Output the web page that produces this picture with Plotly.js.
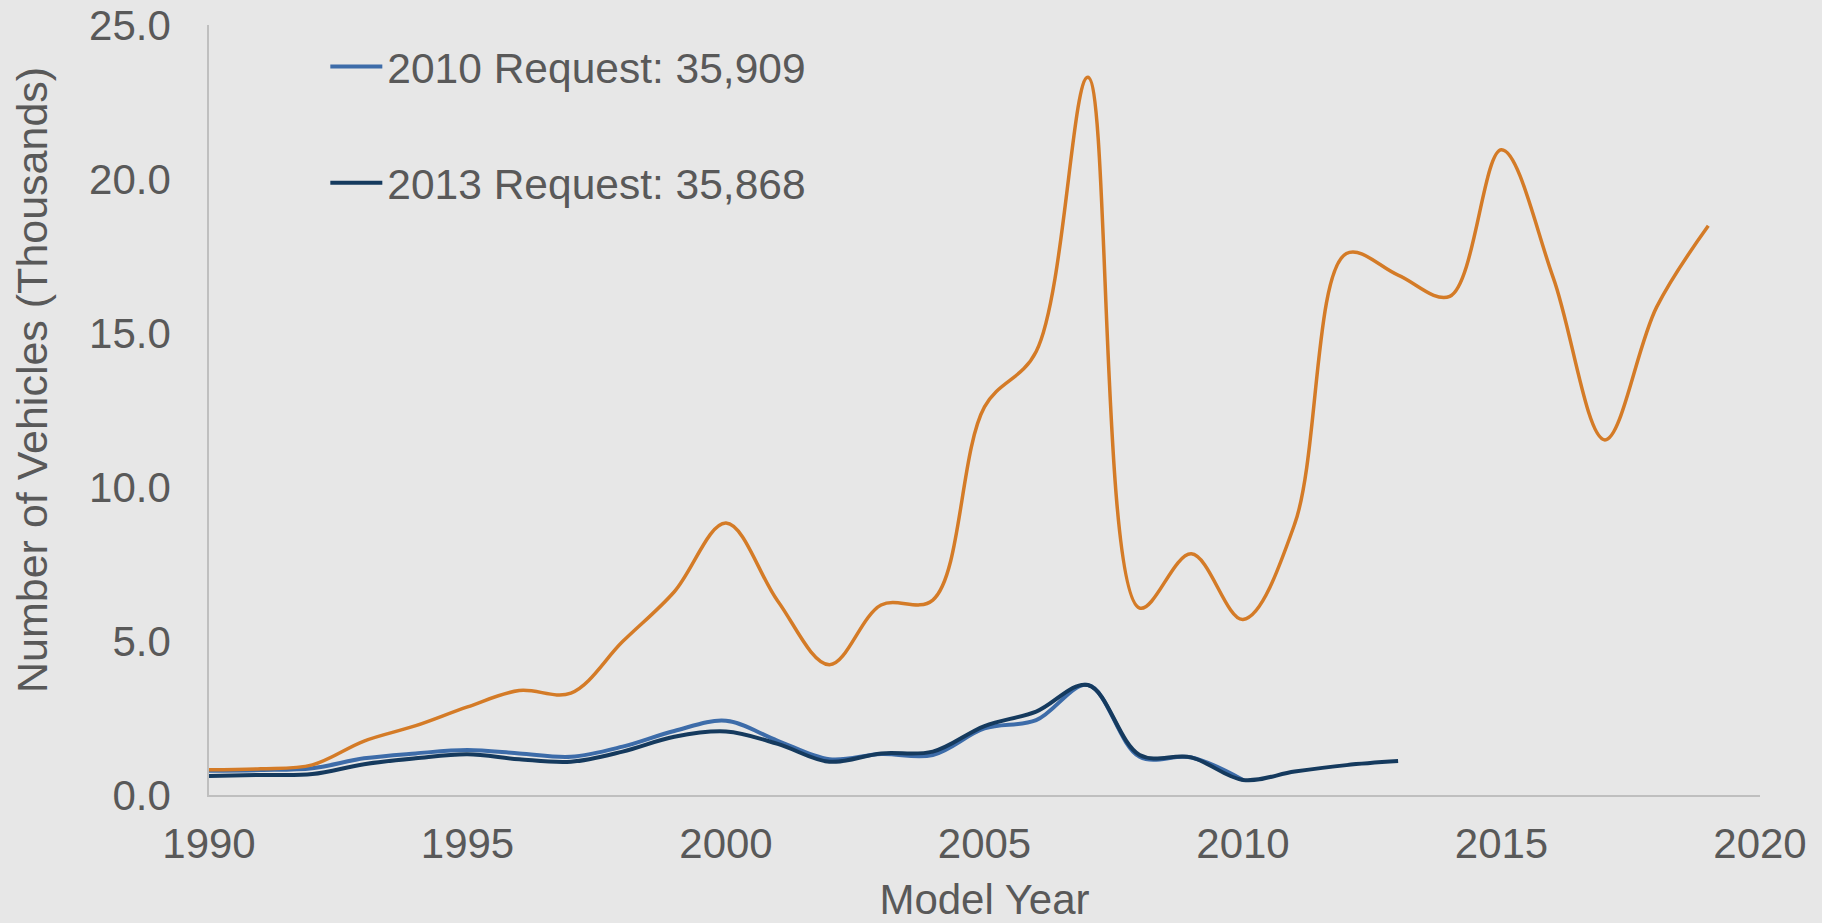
<!DOCTYPE html>
<html>
<head>
<meta charset="utf-8">
<script src="https://cdn.plot.ly/plotly-3.0.1.min.js"></script>
<style>
  html, body { margin: 0; padding: 0; background: #e7e7e7; }
  #chart { width: 1822px; height: 923px; }
</style>
</head>
<body>
<div id="chart"></div>
<script>
// Model years
const yearsAll = [1990,1991,1992,1993,1994,1995,1996,1997,1998,1999,2000,2001,2002,2003,2004,2005,2006,2007,2008,2009,2010,2011,2012,2013,2014,2015,2016,2017,2018,2019];
const years2010 = [1990,1991,1992,1993,1994,1995,1996,1997,1998,1999,2000,2001,2002,2003,2004,2005,2006,2007,2008,2009,2010];
const years2013 = [1990,1991,1992,1993,1994,1995,1996,1997,1998,1999,2000,2001,2002,2003,2004,2005,2006,2007,2008,2009,2010,2011,2012,2013];

// Number of vehicles (thousands)
const seriesOrange = [0.82,0.85,0.98,1.75,2.25,2.86,3.39,3.31,4.98,6.6,8.83,6.3,4.23,6.17,6.33,12.6,14.4,23.3,6.07,7.83,5.7,8.8,17.58,16.88,16.19,20.95,16.8,11.53,15.84,18.48];
const series2010 = [0.79,0.81,0.87,1.19,1.35,1.46,1.35,1.24,1.57,2.08,2.41,1.76,1.16,1.33,1.30,2.16,2.43,3.57,1.24,1.22,0.49];
const series2013 = [0.62,0.65,0.68,1.0,1.19,1.32,1.16,1.08,1.41,1.89,2.06,1.66,1.08,1.35,1.41,2.24,2.71,3.57,1.30,1.22,0.49,0.76,0.97,1.10];

const name2010 = "2010 Request: 35,909";
const name2013 = "2013 Request: 35,868";
const xTicks = [1990,1995,2000,2005,2010,2015,2020];
const yTicks = [0,5,10,15,20,25];
const xTitle = "Model Year";
const yTitle = "Number of Vehicles (Thousands)";

const textColor = "#595959";
const fontFam = "Liberation Sans, Arial, sans-serif";

const traces = [
  {x: years2010, y: series2010, name: name2010, type: "scatter", mode: "lines",
   line: {color: "#3d6ca9", width: 4, shape: "spline", smoothing: 1},
   legendgroup: "a", hoverinfo: "x+y"},
  {x: years2013, y: series2013, name: name2013, type: "scatter", mode: "lines",
   line: {color: "#153a5e", width: 4, shape: "spline", smoothing: 1},
   legendgroup: "b", hoverinfo: "x+y"},
  {x: yearsAll, y: seriesOrange, name: "Other", type: "scatter", mode: "lines",
   line: {color: "#d47b27", width: 3.5, shape: "spline", smoothing: 1},
   showlegend: false, hoverinfo: "x+y"}
];

const layout = {
  width: 1822, height: 923,
  margin: {l: 209, r: 62, t: 25, b: 128},
  paper_bgcolor: "#e7e7e7",
  plot_bgcolor: "#e7e7e7",
  font: {family: fontFam, color: textColor, size: 42},
  showlegend: true,
  legend: {
    x: 0.075, y: 0.9905, xanchor: "left", yanchor: "top",
    bgcolor: "rgba(0,0,0,0)",
    font: {family: fontFam, size: 42.5, color: textColor},
    traceorder: "grouped", tracegroupgap: 58,
    itemwidth: 52
  },
  xaxis: {
    range: [1990, 2020], tickvals: xTicks, ticktext: xTicks.map(String),
    showgrid: false, zeroline: false, showline: true,
    linecolor: "#bfbfbf", linewidth: 1.5, ticks: "",
    ticklabelstandoff: 11,
    tickfont: {family: fontFam, size: 42, color: textColor},
    title: {text: xTitle, font: {family: fontFam, size: 42, color: textColor}, standoff: 27},
    automargin: false, fixedrange: true
  },
  yaxis: {
    range: [0, 25], tickvals: yTicks, tickformat: ".1f",
    showgrid: false, zeroline: false, showline: true,
    linecolor: "#bfbfbf", linewidth: 1.5, ticks: "",
    ticklabelstandoff: 28,
    tickfont: {family: fontFam, size: 42, color: textColor},
    automargin: false, fixedrange: true
  },
  annotations: [
    {text: yTitle, xref: "paper", yref: "paper",
     x: (32 - 209) / 1551, y: (795 - 380) / 770,
     xanchor: "center", yanchor: "middle", textangle: -90, showarrow: false,
     font: {family: fontFam, size: 43, color: textColor}}
  ]
};

Plotly.newPlot("chart", traces, layout, {displayModeBar: false});
</script>
</body>
</html>
